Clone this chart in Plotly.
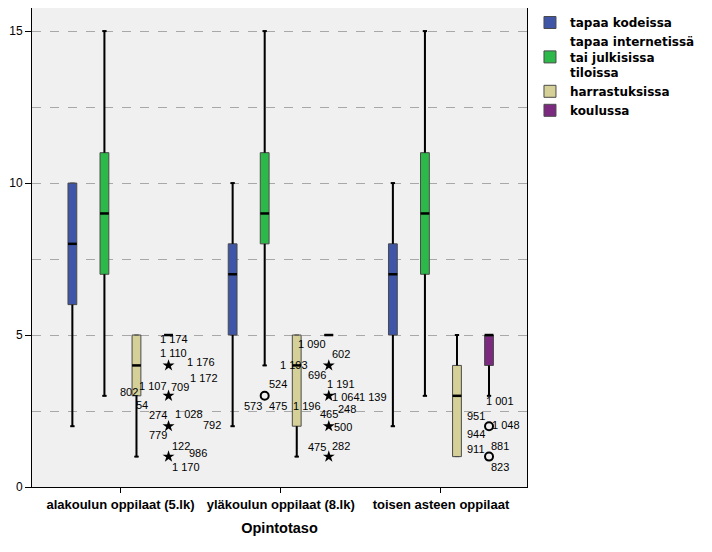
import plotly.graph_objects as go

# ---------------- data ----------------
groups = ["alakoulun oppilaat (5.lk)", "yläkoulun oppilaat (8.lk)", "toisen asteen oppilaat"]
series = ["tapaa kodeissa", "tapaa internetissä<br>tai julkisissa<br>tiloissa", "harrastuksissa", "koulussa"]
colors = ["#3f55a8", "#2db84a", "#d5cf98", "#7b2a80"]

q1 = [[6, 5, 5], [7, 8, 7], [3, 2, 1], [5, 5, 4]]
median = [[8, 7, 7], [9, 9, 9], [4, 4, 3], [5, 5, 5]]
q3 = [[10, 8, 8], [11, 11, 11], [5, 5, 4], [5, 5, 5]]
lowerfence = [[2, 2, 2], [3, 4, 3], [1, 1, 1], [5, 5, 3]]
upperfence = [[10, 10, 10], [15, 15, 15], [5, 5, 5], [5, 5, 5]]

# outliers: (series index, group index, value, kind)
outliers = [
    (3, 0, 4, "extreme"), (3, 0, 3, "extreme"), (3, 0, 2, "extreme"), (3, 0, 1, "extreme"),
    (1, 1, 3, "outlier"),
    (3, 1, 4, "extreme"), (3, 1, 3, "extreme"), (3, 1, 2, "extreme"), (3, 1, 1, "extreme"),
    (3, 2, 2, "outlier"), (3, 2, 1, "outlier"),
]

# case labels: (series, group, value, text)
case_labels = [
    (3, 0, 4, "1 174"), (3, 0, 4, "1 110"), (3, 0, 4, "1 176"),
    (3, 0, 3, "1 172"), (3, 0, 3, "1 107"), (3, 0, 3, "709"), (3, 0, 3, "802"),
    (3, 0, 2, "54"), (3, 0, 2, "274"), (3, 0, 2, "1 028"), (3, 0, 2, "792"), (3, 0, 2, "779"),
    (3, 0, 1, "122"), (3, 0, 1, "986"), (3, 0, 1, "1 170"),
    (1, 1, 3, "524"), (1, 1, 3, "573"), (1, 1, 3, "475"),
    (3, 1, 4, "1 090"), (3, 1, 4, "602"), (3, 1, 4, "1 193"), (3, 1, 4, "696"),
    (3, 1, 3, "1 191"), (3, 1, 3, "1 064"), (3, 1, 3, "1 139"), (3, 1, 3, "1 196"),
    (3, 1, 2, "465"), (3, 1, 2, "248"), (3, 1, 2, "500"),
    (3, 1, 1, "475"), (3, 1, 1, "282"),
    (3, 2, 2, "1 001"), (3, 2, 2, "951"), (3, 2, 2, "1 048"), (3, 2, 2, "944"),
    (3, 2, 1, "911"), (3, 2, 1, "881"), (3, 2, 1, "823"),
]
# pixel offsets of each label from its point (dx right, dy down)
label_offsets = [
    (5, -26), (5, -12), (32, -3),
    (35, -18), (-16, -10), (11, -9), (-40, -4),
    (-27, -21), (-11, -11), (20, -12), (43, -1), (-11, 9),
    (12, -11), (29, -4), (17, 10),
    (13, -12), (-12, 10), (13, 10),
    (-17, -21), (12, -11), (-35, 0), (-12, 10),
    (12, -12), (17, 1), (44, 1), (-22, 10),
    (0, -12), (18, -17), (14, 1),
    (-12, -10), (12, -11),
    (11, -25), (-13, -10), (17, -1), (-13, 8),
    (-13, -8), (11, -11), (11, 10),
]

# ---------------- layout helpers ----------------
slot = 0.2        # distance between series within a group
box_w = 0.055
cap_w = 0.026


def xpos(s, g):
    return g + (s - 1.5) * slot


fig = go.Figure()

for s in range(4):
    fig.add_trace(go.Box(
        x=[xpos(s, g) for g in range(3)],
        q1=q1[s], median=median[s], q3=q3[s],
        lowerfence=lowerfence[s], upperfence=upperfence[s],
        name=series[s], width=box_w,
        fillcolor=colors[s], line=dict(color="#4a4a4a", width=1),
        whiskerwidth=0.5, hoverinfo="skip",
    ))

# thicker whiskers + caps
wx, wy = [], []
for s in range(4):
    for g in range(3):
        x = xpos(s, g)
        if lowerfence[s][g] < q1[s][g]:
            wx += [x, x, None, x - cap_w / 2, x + cap_w / 2, None]
            wy += [lowerfence[s][g], q1[s][g], None, lowerfence[s][g], lowerfence[s][g], None]
        if upperfence[s][g] > q3[s][g]:
            wx += [x, x, None, x - cap_w / 2, x + cap_w / 2, None]
            wy += [q3[s][g], upperfence[s][g], None, upperfence[s][g], upperfence[s][g], None]
fig.add_trace(go.Scatter(x=wx, y=wy, mode="lines", line=dict(color="black", width=2),
                         showlegend=False, hoverinfo="skip"))

# medians
mx, my = [], []
for s in range(4):
    for g in range(3):
        x = xpos(s, g)
        mx += [x - box_w / 2, x + box_w / 2, None]
        my += [median[s][g], median[s][g], None]
fig.add_trace(go.Scatter(x=mx, y=my, mode="lines", line=dict(color="black", width=2.5),
                         showlegend=False, hoverinfo="skip"))

# outliers
for kind, sym, size in [("outlier", "circle-open", 8), ("extreme", "star", 9)]:
    pts = [o for o in outliers if o[3] == kind]
    fig.add_trace(go.Scatter(
        x=[xpos(o[0], o[1]) for o in pts], y=[o[2] for o in pts], mode="markers",
        marker=dict(symbol=sym, size=size, color="black",
                    line=dict(color="black", width=2 if kind == "outlier" else 0)),
        showlegend=False, hoverinfo="skip"))

for (s, g, v, t), (dx, dy) in zip(case_labels, label_offsets):
    fig.add_annotation(x=xpos(s, g), y=v, text=t, showarrow=False, xshift=dx, yshift=-dy,
                       font=dict(family="Liberation Sans", size=11, color="black"))

fig.update_layout(
    width=704, height=544,
    margin=dict(l=24, r=185, t=0, b=65),
    paper_bgcolor="white", plot_bgcolor="#f0f0f0",
    boxmode="overlay",
    font=dict(family="Liberation Sans", size=12, color="black"),
    legend=dict(x=1.006, y=1.0, xanchor="left", yanchor="top",
                bgcolor="rgba(0,0,0,0)", tracegroupgap=0,
                font=dict(family="DejaVu Sans", size=12, weight="bold", color="black")),
    xaxis=dict(range=[-0.552, 2.537], tickvals=[0, 1, 2], ticktext=groups,
               showgrid=False, zeroline=False, ticks="outside", ticklen=5, tickcolor="black",
               tickfont=dict(family="Liberation Sans", size=13, weight="bold"),
               showline=True, linecolor="black", linewidth=1, mirror=True,
               title=dict(text="Opintotaso", font=dict(family="Liberation Sans", size=14.5, weight="bold"),
                          standoff=12)),
    yaxis=dict(range=[0, 15.76], tickvals=[0, 5, 10, 15], zeroline=False,
               ticks="outside", ticklen=6, tickcolor="black",
               tickfont=dict(family="Liberation Sans", size=12),
               showline=True, linecolor="black", linewidth=1, mirror=True,
               showgrid=True, gridcolor="#a8a8a8", griddash="dash", gridwidth=1,
               minor=dict(dtick=2.5, tick0=0, showgrid=True, gridcolor="#a8a8a8", griddash="dash", ticks="")),
)

fig.write_html("out.html")
